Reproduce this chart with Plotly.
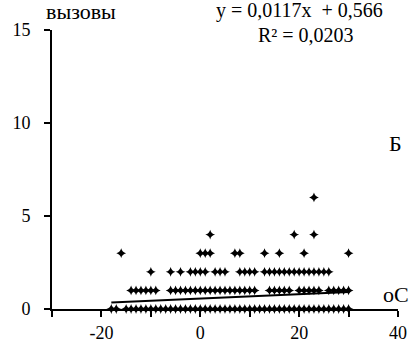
import plotly.graph_objects as go

# observations: temperature (oC) per number of calls (вызовы)
x_calls0 = [-18, -17] + list(range(-15, 31))
x_calls1 = list(range(-14, -8)) + list(range(-6, 12)) + list(range(14, 19)) + list(range(20, 25)) + list(range(26, 31))
x_calls2 = [-10, -6, -4, -2, -1, 0, 1, 3, 4, 5, 8, 9, 10, 11] + list(range(13, 27))
x_calls3 = [-16, 0, 1, 2, 7, 8, 13, 16, 21, 30]
x_calls4 = [2, 19, 23]
x_calls6 = [23]

slope = 0.0117
intercept = 0.566
trend_x = [-18, 30]

x_ticks = [-30, -20, -10, 0, 10, 20, 30, 40]
x_tick_labels = ["", "-20", "", "0", "", "20", "", "40"]
y_ticks = [0, 5, 10, 15]

xs = x_calls0 + x_calls1 + x_calls2 + x_calls3 + x_calls4 + x_calls6
ys = ([0] * len(x_calls0) + [1] * len(x_calls1) + [2] * len(x_calls2)
      + [3] * len(x_calls3) + [4] * len(x_calls4) + [6] * len(x_calls6))

font = "Liberation Serif"

fig = go.Figure()
fig.add_trace(go.Scatter(x=xs, y=ys, mode="markers",
                         marker=dict(symbol="star-diamond", size=7, color="black"),
                         cliponaxis=False, showlegend=False))
fig.add_trace(go.Scatter(x=trend_x, y=[slope * v + intercept for v in trend_x],
                         mode="lines", line=dict(color="black", width=2),
                         showlegend=False))

fig.update_layout(
    width=419, height=355,
    margin=dict(l=40, r=12, t=30, b=33),
    paper_bgcolor="white", plot_bgcolor="white",
    font=dict(family=font, color="black", size=18),
    xaxis=dict(range=[-30, 40], tickvals=x_ticks, ticktext=x_tick_labels,
               showgrid=False, zeroline=False,
               showline=True, linecolor="black", linewidth=2, ticks="outside",
               ticklen=6, tickwidth=1.5, tickcolor="black",
               tickfont=dict(size=18, family=font)),
    yaxis=dict(range=[0, 15], tickvals=y_ticks, showgrid=False, zeroline=False,
               showline=True, linecolor="black", linewidth=2, ticks="outside",
               ticklen=6, tickwidth=1.5, tickcolor="black",
               tickfont=dict(size=18, family=font), ticklabelstandoff=10),
    annotations=[
        dict(text="вызовы", xref="paper", yref="paper", x=-0.022, y=1.066,
             xanchor="left", yanchor="middle", showarrow=False, font=dict(size=22)),
        dict(text="y = 0,0117x  + 0,566", xref="paper", yref="paper", x=0.715, y=1.069,
             xanchor="center", yanchor="middle", showarrow=False, font=dict(size=20)),
        dict(text="R² = 0,0203", xref="paper", yref="paper", x=0.734, y=0.983,
             xanchor="center", yanchor="middle", showarrow=False, font=dict(size=20)),
        dict(text="Б", xref="paper", yref="paper", x=0.992, y=0.593,
             xanchor="center", yanchor="middle", showarrow=False, font=dict(size=22)),
        dict(text="oC", xref="paper", yref="paper", x=0.995, y=0.052,
             xanchor="center", yanchor="middle", showarrow=False, font=dict(size=22)),
    ],
)

fig.write_html(
    "out.html",
    config={"displayModeBar": False},
    post_script=(
        "document.body.style.margin='0';"
        "document.body.style.overflow='hidden';"
        "document.documentElement.style.overflow='hidden';"
    ),
)
